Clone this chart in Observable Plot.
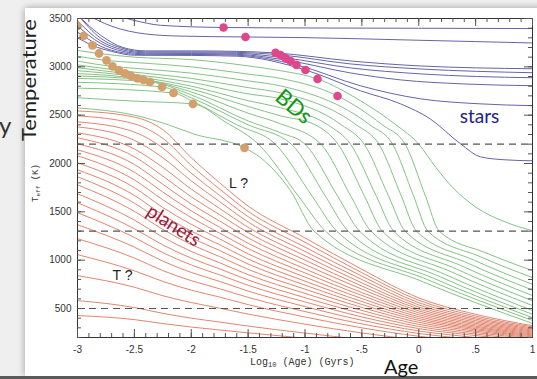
<!DOCTYPE html>
<html><head><meta charset="utf-8">
<script src="https://cdn.jsdelivr.net/npm/d3@7"></script>
<script src="https://cdn.jsdelivr.net/npm/@observablehq/plot@0.6"></script>
<style>
html,body{margin:0;padding:0;background:#efefef;width:537px;height:379px;overflow:hidden;position:relative}
#card{position:absolute;left:25px;top:8px;width:530px;height:368px;background:#fff;box-shadow:0 0 7px rgba(0,0,0,0.35)}
#bar{position:absolute;left:0;top:376px;width:537px;height:3px;background:#5a5a5a}
#chart{position:absolute;left:0;top:0}
</style></head><body>
<div id="card"></div><div id="bar"></div><div id="chart"></div>
<script>
// ---------- data ----------
const redX = [-3, -2.5, -2.25, -2, -1.75, -1.5, -1, -0.5, 0, 0.5, 1];
const redTracks = [
  [2544, 2480, 2350, 2060, 1800, 1560, 1230, 905, 610, 440, 322],
  [2493, 2410, 2260, 1980, 1735, 1505, 1185, 870, 585, 422, 310],
  [2431, 2325, 2160, 1900, 1670, 1450, 1135, 835, 560, 405, 298],
  [2379, 2240, 2060, 1820, 1605, 1395, 1090, 800, 537, 390, 287],
  [2317, 2150, 1960, 1735, 1535, 1340, 1045, 765, 515, 375, 276],
  [2266, 2070, 1870, 1655, 1470, 1285, 1000, 732, 495, 360, 266],
  [2204, 1990, 1785, 1580, 1405, 1230, 955, 700, 475, 346, 256],
  [2142, 1910, 1705, 1510, 1340, 1175, 910, 665, 455, 332, 246],
  [2080, 1830, 1625, 1440, 1280, 1120, 868, 635, 435, 318, 236],
  [2007, 1750, 1545, 1370, 1220, 1065, 825, 603, 415, 305, 226],
  [1935, 1670, 1468, 1300, 1160, 1012, 783, 572, 396, 292, 216],
  [1863, 1590, 1395, 1232, 1100, 960, 742, 542, 377, 280, 206],
  [1780, 1505, 1318, 1162, 1037, 905, 700, 511, 357, 266, 196],
  [1687, 1415, 1238, 1090, 973, 850, 656, 480, 336, 252, 185],
  [1594, 1325, 1158, 1020, 910, 795, 612, 447, 314, 236, 172],
  [1491, 1235, 1078, 950, 848, 740, 568, 413, 292, 220, 160],
  [1367, 1135, 990, 873, 780, 680, 520, 378, 268, 200, 147],
  [1222, 1022, 892, 788, 704, 615, 468, 340, 242, 180, 132],
  [1057, 890, 780, 690, 618, 540, 412, 300, 213, 160, 118],
  [840, 720, 632, 562, 503, 442, 338, 247, 176, 132, 98],
  [582, 510, 450, 400, 360, 318, 246, 180, 130, 98, 72],
  [427, 385, 344, 308, 278, 248, 193, 142, 104, 78, 58]
];
const greenTracks = [
  [[-3,3170],[-2.811,3138],[-2.5,3100],[-2,3075],[-1.5,3010],[-1.215,2960],[-0.89,2875],[-0.5,2640],[-0.2,2400],[0,2200],[0.15,1960],[0.3,1750],[0.5,1550],[0.75,1400],[1,1305]],
  [[-3,3110],[-2.745,3066],[-2.5,3045],[-2,3000],[-1.5,2925],[-1.215,2880],[-0.714,2699],[-0.32,2400],[-0.12,2200],[0.06,1660],[0.18,1300],[0.59,1076],[1,892]],
  [[-3,3060],[-2.692,3004],[-2.5,2985],[-2,2935],[-1.5,2855],[-1.215,2803],[-0.43,2400],[-0.23,2200],[-0.044,1660],[0.08,1300],[0.54,1036],[1,820]],
  [[-3,3020],[-2.635,2963],[-2,2880],[-1.5,2785],[-1.215,2731],[-0.55,2400],[-0.35,2200],[-0.152,1660],[-0.02,1300],[0.49,998],[1,750]],
  [[-3,2990],[-2.582,2932],[-2,2840],[-1.5,2720],[-1.215,2669],[-0.68,2400],[-0.48,2200],[-0.264,1660],[-0.12,1300],[0.44,965],[1,690]],
  [[-3,2960],[-2.53,2906],[-2,2800],[-1.5,2650],[-1.215,2576],[-0.8,2400],[-0.6,2200],[-0.372,1660],[-0.22,1300],[0.39,934],[1,634]],
  [[-3,2930],[-2.473,2880],[-2,2770],[-1.5,2590],[-1.215,2493],[-0.91,2400],[-0.71,2200],[-0.476,1660],[-0.32,1300],[0.34,904],[1,580]],
  [[-3,2905],[-2.42,2865],[-2,2740],[-1.5,2520],[-1.215,2411],[-0.86,2200],[-0.596,1660],[-0.42,1300],[0.29,877],[1,530]],
  [[-3,2880],[-2.363,2844],[-2,2710],[-1.5,2440],[-1.215,2318],[-1.0,2200],[-0.712,1660],[-0.52,1300],[0.24,848],[1,479]],
  [[-3,2840],[-2.257,2792],[-2,2680],[-1.5,2400],[-1.12,2200],[-0.82,1660],[-0.62,1300],[0.19,827],[1,440]],
  [[-3,2780],[-2.156,2730],[-2,2650],[-1.6,2400],[-1.26,2200],[-0.936,1660],[-0.72,1300],[0.14,808],[1,405]],
  [[-3,2680],[-2.5,2645],[-1.985,2617],[-1.7,2430],[-1.41,2200],[-1.056,1660],[-0.82,1300],[0.09,792],[1,376]],
  [[-3,2575],[-2.5,2500],[-2.2,2400],[-1.98,2306],[-1.532,2162],[-1.39,2059],[-1.127,1718],[-0.92,1300],[0.04,775],[1,345]]
];
const blueTracks = [
  [[-2.75,3560],[-2.5,3480],[-2.27,3430],[-1.716,3407],[-1,3402],[0,3399],[1,3396]],
  [[-2.95,3560],[-2.7,3420],[-2.4,3340],[-2.1,3318],[-1.523,3309],[-1,3302],[0,3275],[1,3247]],
  [[-3.05,3600],[-2.8,3330],[-2.6,3200],[-2.4,3165],[-2,3165],[-1.6,3160],[-1.259,3144],[-0.6,3061],[0.015,3009],[1,2980]],
  [[-3,3540],[-2.8,3300],[-2.6,3190],[-2.4,3155],[-2,3155],[-1.6,3150],[-1.215,3123],[-0.6,3030],[0.015,2978],[1,2939]],
  [[-3,3474],[-2.8,3270],[-2.6,3175],[-2.4,3145],[-2,3145],[-1.6,3140],[-1.171,3092],[-0.6,2989],[0.015,2927],[1,2887]],
  [[-3,3423],[-2.8,3245],[-2.6,3160],[-2.4,3135],[-2,3137],[-1.6,3130],[-1.127,3061],[-0.6,2937],[-0.16,2865],[0.393,2823],[1,2805]],
  [[-3,3360],[-2.947,3319],[-2.8,3215],[-2.6,3145],[-2.4,3125],[-2,3128],[-1.6,3120],[-1.075,3020],[-0.51,2803],[0.015,2669],[0.54,2617],[1,2598]],
  [[-3,3300],[-2.868,3221],[-2.7,3160],[-2.5,3120],[-2,3118],[-1.6,3110],[-0.996,2968],[-0.51,2751],[-0.16,2617],[0.1,2462],[0.367,2204],[0.543,2069],[0.76,2038],[1,2028]]
];
const pinkDots = [[-1.716,3407],[-1.523,3309],[-1.259,3144],[-1.215,3123],[-1.171,3092],[-1.127,3061],[-1.075,3020],[-0.996,2968],[-0.89,2875],[-0.714,2699]];
const orangeDots = [[-3.0,3423],[-2.947,3319],[-2.868,3221],[-2.811,3138],[-2.745,3066],[-2.692,3004],[-2.635,2963],[-2.582,2932],[-2.53,2906],[-2.473,2880],[-2.42,2865],[-2.363,2844],[-2.257,2792],[-2.156,2730],[-1.985,2617],[-1.532,2162]];
const dashedTemps = [2200, 1300, 500];
const xTicks = [-3, -2.5, -2, -1.5, -1, -0.5, 0, 0.5, 1];
const xTickLabels = ["-3", "-2.5", "-2", "-1.5", "-1", "-.5", "0", ".5", "1"];
const yTicks = [500, 1000, 1500, 2000, 2500, 3000, 3500];

// ---------- build tables ----------
const redRows = [], greenRows = [], blueRows = [];
redTracks.forEach((vals, i) => vals.forEach((T, j) => redRows.push({id: i, x: redX[j], T})));
greenTracks.forEach((pts, i) => pts.forEach(([x, T]) => greenRows.push({id: i, x, T})));
blueTracks.forEach((pts, i) => pts.forEach(([x, T]) => blueRows.push({id: i, x, T})));
const xLab = new Map(xTicks.map((t, i) => [t, xTickLabels[i]]));
const xMinor = d3.range(-30, 11).map(i => i / 10);
const yMinor = d3.range(2, 36).map(i => i * 100);

const W = 537 - 77 - 5, H = 379 - 18 - 42;
const tk = "#555";
const lineOpts = {x: "x", y: "T", z: "id", strokeWidth: 1, curve: "monotone-x", clip: true};

const chart = Plot.plot({
  width: 537, height: 379,
  marginLeft: 77, marginRight: 5, marginTop: 18, marginBottom: 42,
  x: {domain: [-3, 1]},
  y: {domain: [200, 3500]},
  style: {background: "transparent", fontFamily: "'Liberation Sans', Arial, sans-serif", fontSize: "10px", overflow: "visible"},
  marks: [
    Plot.line(redRows, {...lineOpts, stroke: "#e0866f"}),
    Plot.line(greenRows, {...lineOpts, stroke: "#86c285"}),
    Plot.line(blueRows, {...lineOpts, stroke: "#6464aa"}),
    Plot.ruleY(dashedTemps, {y: d => d, stroke: "#555", strokeWidth: 1.1, strokeDasharray: "7,5"}),
    Plot.dot(orangeDots, {x: d => d[0], y: d => d[1], r: 4.4, fill: "#d3a06d", clip: true}),
    Plot.dot(pinkDots, {x: d => d[0], y: d => d[1], r: 4.3, fill: "#e0468c", clip: true}),
    Plot.frame({stroke: "#333"}),
    Plot.tickX(xMinor, {x: d => d, insetTop: H - 4, stroke: tk}),
    Plot.tickX(xTicks, {x: d => d, insetTop: H - 8, stroke: tk}),
    Plot.tickX(xMinor, {x: d => d, insetBottom: H - 4, stroke: tk}),
    Plot.tickX(xTicks, {x: d => d, insetBottom: H - 8, stroke: tk}),
    Plot.tickY(yMinor, {y: d => d, insetRight: W - 4, stroke: tk}),
    Plot.tickY(yTicks, {y: d => d, insetRight: W - 8, stroke: tk}),
    Plot.tickY(yMinor, {y: d => d, insetLeft: W - 4, stroke: tk}),
    Plot.tickY(yTicks, {y: d => d, insetLeft: W - 8, stroke: tk}),
    Plot.axisX({ticks: xTicks, tickSize: 0, tickPadding: 8, tickFormat: d => xLab.get(d), label: null, fill: "#333"}),
    Plot.axisY({ticks: yTicks, tickSize: 0, tickPadding: 6, tickFormat: d => String(d), label: null, fill: "#333"}),
    Plot.text(["BDs"], {x: -1.10, y: 2586, text: d => d, rotate: 40, fontSize: 22, fill: "#139613", fontFamily: "Lato, sans-serif"}),
    Plot.text(["stars"], {x: 0.534, y: 2483, text: d => d, fontSize: 19, fill: "#22228c", fontFamily: "Lato, sans-serif"}),
    Plot.text(["planets"], {x: -2.156, y: 1357, text: d => d, rotate: 33, fontSize: 19, fill: "#9c1a42", fontFamily: "Lato, sans-serif"}),
    Plot.text(["L ?"], {x: -1.585, y: 1790, text: d => d, fontSize: 14, fill: "#222"}),
    Plot.text(["T ?"], {x: -2.604, y: 840, text: d => d, fontSize: 14, fill: "#222"})
  ]
});
document.getElementById("chart").appendChild(chart);

const svg = d3.select(chart);
svg.append("text").attr("transform", "translate(36,80) rotate(-90)").attr("text-anchor", "middle")
  .style("font-family", "Lato, sans-serif").style("font-size", "20px").attr("fill", "#222")
  .attr("textLength", 122).attr("lengthAdjust", "spacingAndGlyphs").text("Temperature");
svg.append("text").attr("x", -1).attr("y", 134).attr("text-anchor", "start")
  .style("font-family", "Lato, sans-serif").style("font-size", "24px").attr("fill", "#333").text("y");
const teff = svg.append("text").attr("transform", "translate(38,183) rotate(-90)").attr("text-anchor", "middle")
  .style("font-family", "'Liberation Mono', monospace").style("font-size", "9px").attr("fill", "#333");
teff.append("tspan").text("T");
teff.append("tspan").attr("dy", 2).style("font-size", "6px").text("eff");
teff.append("tspan").attr("dy", -2).text(" (K)");
const xl = svg.append("text").attr("x", 250).attr("y", 365).attr("text-anchor", "start")
  .style("font-family", "'Liberation Mono', monospace").style("font-size", "10px").attr("fill", "#333");
xl.append("tspan").text("Log");
xl.append("tspan").attr("dy", 2).style("font-size", "7px").text("10");
xl.append("tspan").attr("dy", -2).text(" (Age) (Gyrs)");
svg.append("text").attr("x", 384).attr("y", 374).attr("text-anchor", "start")
  .style("font-family", "Lato, sans-serif").style("font-size", "20px").attr("fill", "#111").text("Age");
</script></body></html>
